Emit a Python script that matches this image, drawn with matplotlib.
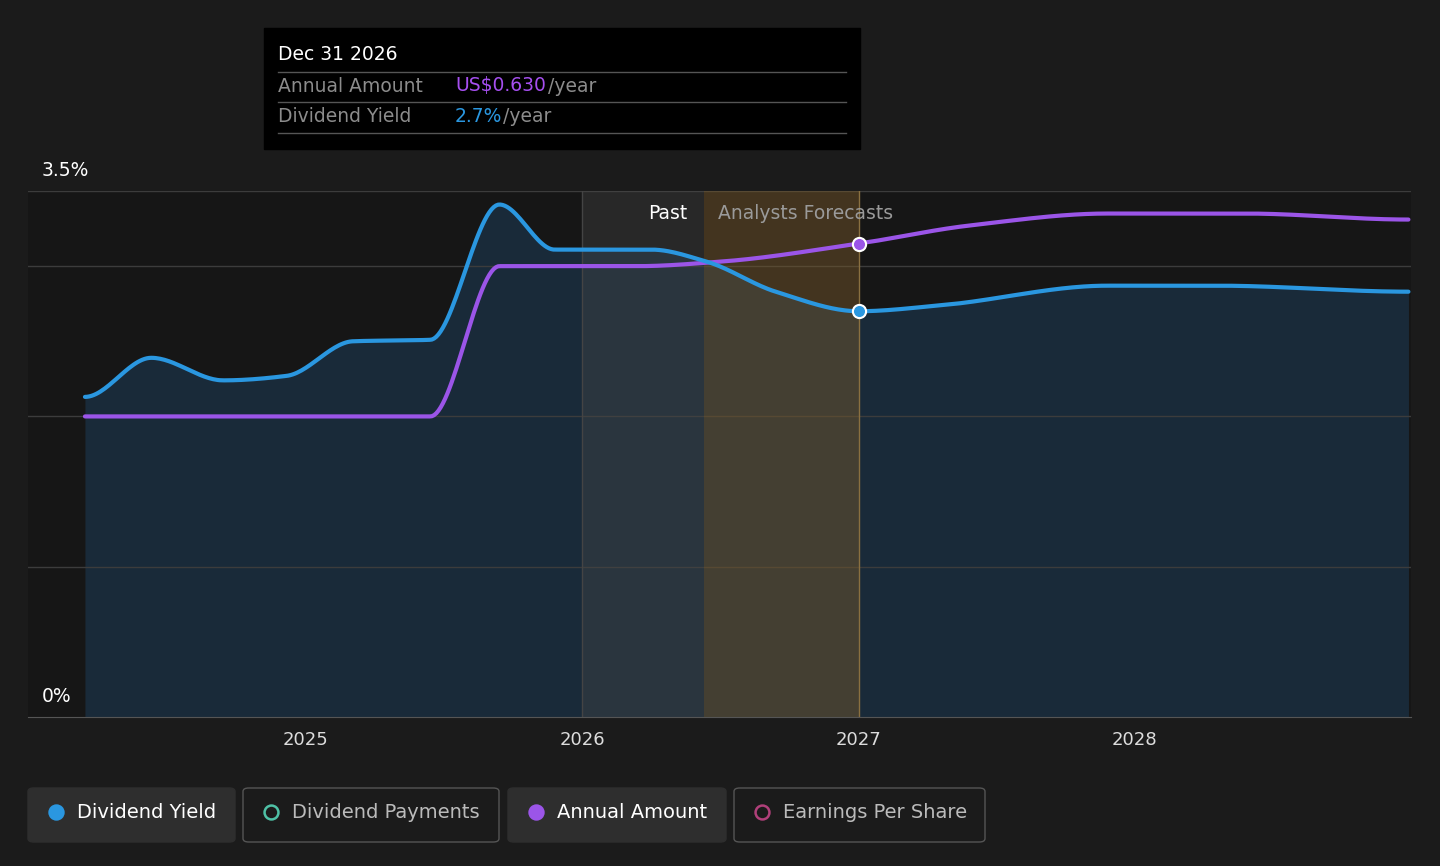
import numpy as np
import matplotlib.pyplot as plt
from matplotlib.patches import FancyBboxPatch, Rectangle

# data
yield_x = [2024.20, 2024.44, 2024.70, 2024.93, 2025.17, 2025.45, 2025.70, 2025.90, 2026.25, 2026.45,
           2026.70, 2027.00, 2027.30, 2027.90, 2028.30, 2028.99]
yield_y = [2.13, 2.39, 2.24, 2.27, 2.50, 2.51, 3.41, 3.11, 3.11, 3.03,
           2.83, 2.70, 2.74, 2.87, 2.87, 2.83]
amount_x = [2024.20, 2025.45, 2025.70, 2026.20, 2026.50, 2027.00, 2027.40, 2027.90, 2028.40, 2028.99]
amount_y = [2.00, 2.00, 3.00, 3.00, 3.03, 3.15, 3.27, 3.35, 3.35, 3.31]


def pchip(x, y, n=600):
    # monotone cubic interpolation, like the chart's smoothed curves
    x = np.asarray(x, float)
    y = np.asarray(y, float)
    h = np.diff(x)
    d = np.diff(y) / h
    m = np.zeros_like(y)
    for i in range(1, len(y) - 1):
        if d[i-1] * d[i] > 0:
            w1 = 2*h[i] + h[i-1]
            w2 = h[i] + 2*h[i-1]
            m[i] = (w1 + w2) / (w1/d[i-1] + w2/d[i])
    xs = np.linspace(x[0], x[-1], n)
    k = np.clip(np.searchsorted(x, xs) - 1, 0, len(h) - 1)
    t = (xs - x[k]) / h[k]
    h00 = 2*t**3 - 3*t**2 + 1
    h10 = t**3 - 2*t**2 + t
    h01 = -2*t**3 + 3*t**2
    h11 = t**3 - t**2
    ys = h00*y[k] + h10*h[k]*m[k] + h01*y[k+1] + h11*h[k]*m[k+1]
    return xs, ys


bg = '#1b1b1b'
fig = plt.figure(figsize=(14.4, 8.66), dpi=100, facecolor=bg)
ax = fig.add_axes([28/1440, 1-717/866, (1411-28)/1440, (717-191)/866])
ax.set_facecolor('#161616')
x0 = 2025 - (306-28)/276.3
x1 = 2025 + (1411-306)/276.3
ax.set_xlim(x0, x1)
ax.set_ylim(0, 3.5)

for v in [1, 2, 3, 3.5]:
    ax.axhline(v, color='#3c3c3c', lw=1)

yx, yy = pchip(yield_x, yield_y)
axx, ayy = pchip(amount_x, amount_y)
ax.fill_between(yx, 0, yy, color='#1d3b57', alpha=0.55, lw=0)

# past/forecast shading
ax.axvspan(2026.0, 2026.44, color='#4a4a4a', alpha=0.35, lw=0, zorder=2)
ax.axvspan(2026.44, 2027.0, color='#7a5a2a', alpha=0.45, lw=0, zorder=2)
ax.axvline(2027.0, color='#8a7040', lw=1, zorder=2)
ax.axvline(2026.0, color='#444444', lw=1, zorder=2)

ax.plot(axx, ayy, color='#9b55e8', lw=3, solid_capstyle='round', zorder=3)
ax.plot(yx, yy, color='#2a97e0', lw=3, solid_capstyle='round', zorder=3)
ax.scatter([2027.0], [3.15], s=90, color='#9b55e8', edgecolor='white', lw=1.5, zorder=5)
ax.scatter([2027.0], [2.70], s=90, color='#2a97e0', edgecolor='white', lw=1.5, zorder=5)

ax.text(2026.38, 3.35, 'Past', color='white', fontsize=13.5, ha='right', va='center', zorder=6)
ax.text(2026.49, 3.35, 'Analysts Forecasts', color='#9a9a9a', fontsize=13.5, ha='left', va='center', zorder=6)

for s in ['top', 'right', 'left']:
    ax.spines[s].set_visible(False)
ax.spines['bottom'].set_color('#555555')
ax.set_yticks([])
ax.set_xticks([2025, 2026, 2027, 2028])
ax.set_xticklabels(['2025', '2026', '2027', '2028'], color='#dddddd', fontsize=13)
ax.tick_params(axis='x', length=0, pad=10)
fig.text(42/1440, 1-170/866, '3.5%', color='white', fontsize=13.5, va='center')
fig.text(42/1440, 1-696/866, '0%', color='white', fontsize=13.5, va='center')

# tooltip
fig.patches.append(Rectangle((264/1440, 1-149/866), 596/1440, 121/866, transform=fig.transFigure,
                             color='black', zorder=10))
fig.text(278/1440, 1-55/866, 'Dec 31 2026', color='white', fontsize=13.5, va='center', zorder=11)
for yl in [72, 102, 133]:
    fig.add_artist(plt.Line2D([278/1440, 846/1440], [1-yl/866]*2, color='#555555', lw=1, zorder=11))
fig.text(278/1440, 1-86/866, 'Annual Amount', color='#8c8c8c', fontsize=13.5, va='center', zorder=11)
fig.text(455/1440, 1-86/866, 'US$0.630', color='#a64ff0', fontsize=13.5, va='center', zorder=11)
fig.text(548/1440, 1-86/866, '/year', color='#8c8c8c', fontsize=13.5, va='center', zorder=11)
fig.text(278/1440, 1-116/866, 'Dividend Yield', color='#8c8c8c', fontsize=13.5, va='center', zorder=11)
fig.text(455/1440, 1-116/866, '2.7%', color='#2a97e0', fontsize=13.5, va='center', zorder=11)
fig.text(503/1440, 1-116/866, '/year', color='#8c8c8c', fontsize=13.5, va='center', zorder=11)

# legend buttons
buttons = [(28, 235, 'Dividend Yield', '#2a97e0', True, True),
           (243, 499, 'Dividend Payments', '#4fc1a6', False, False),
           (508, 726, 'Annual Amount', '#9b55e8', True, True),
           (734, 985, 'Earnings Per Share', '#b0407a', False, False)]
for xa, xb, label, col, filled, active in buttons:
    fig.patches.append(FancyBboxPatch((xa/1440, 1-842/866), (xb-xa)/1440, 54/866,
                                      boxstyle='round,pad=0,rounding_size=0.004',
                                      transform=fig.transFigure,
                                      facecolor='#2e2e2e' if active else bg,
                                      edgecolor='#2e2e2e' if active else '#555555', lw=1))
    fig.add_artist(plt.Line2D([(xa+28)/1440], [1-812/866], marker='o', markersize=10,
                              color=col if filled else 'none', markeredgecolor=col, mew=1.8,
                              transform=fig.transFigure))
    fig.text((xa+49)/1440, 1-812/866, label, color='white' if active else '#bbbbbb',
             fontsize=14, va='center')

fig.savefig('out.png', dpi=100, facecolor=bg)
